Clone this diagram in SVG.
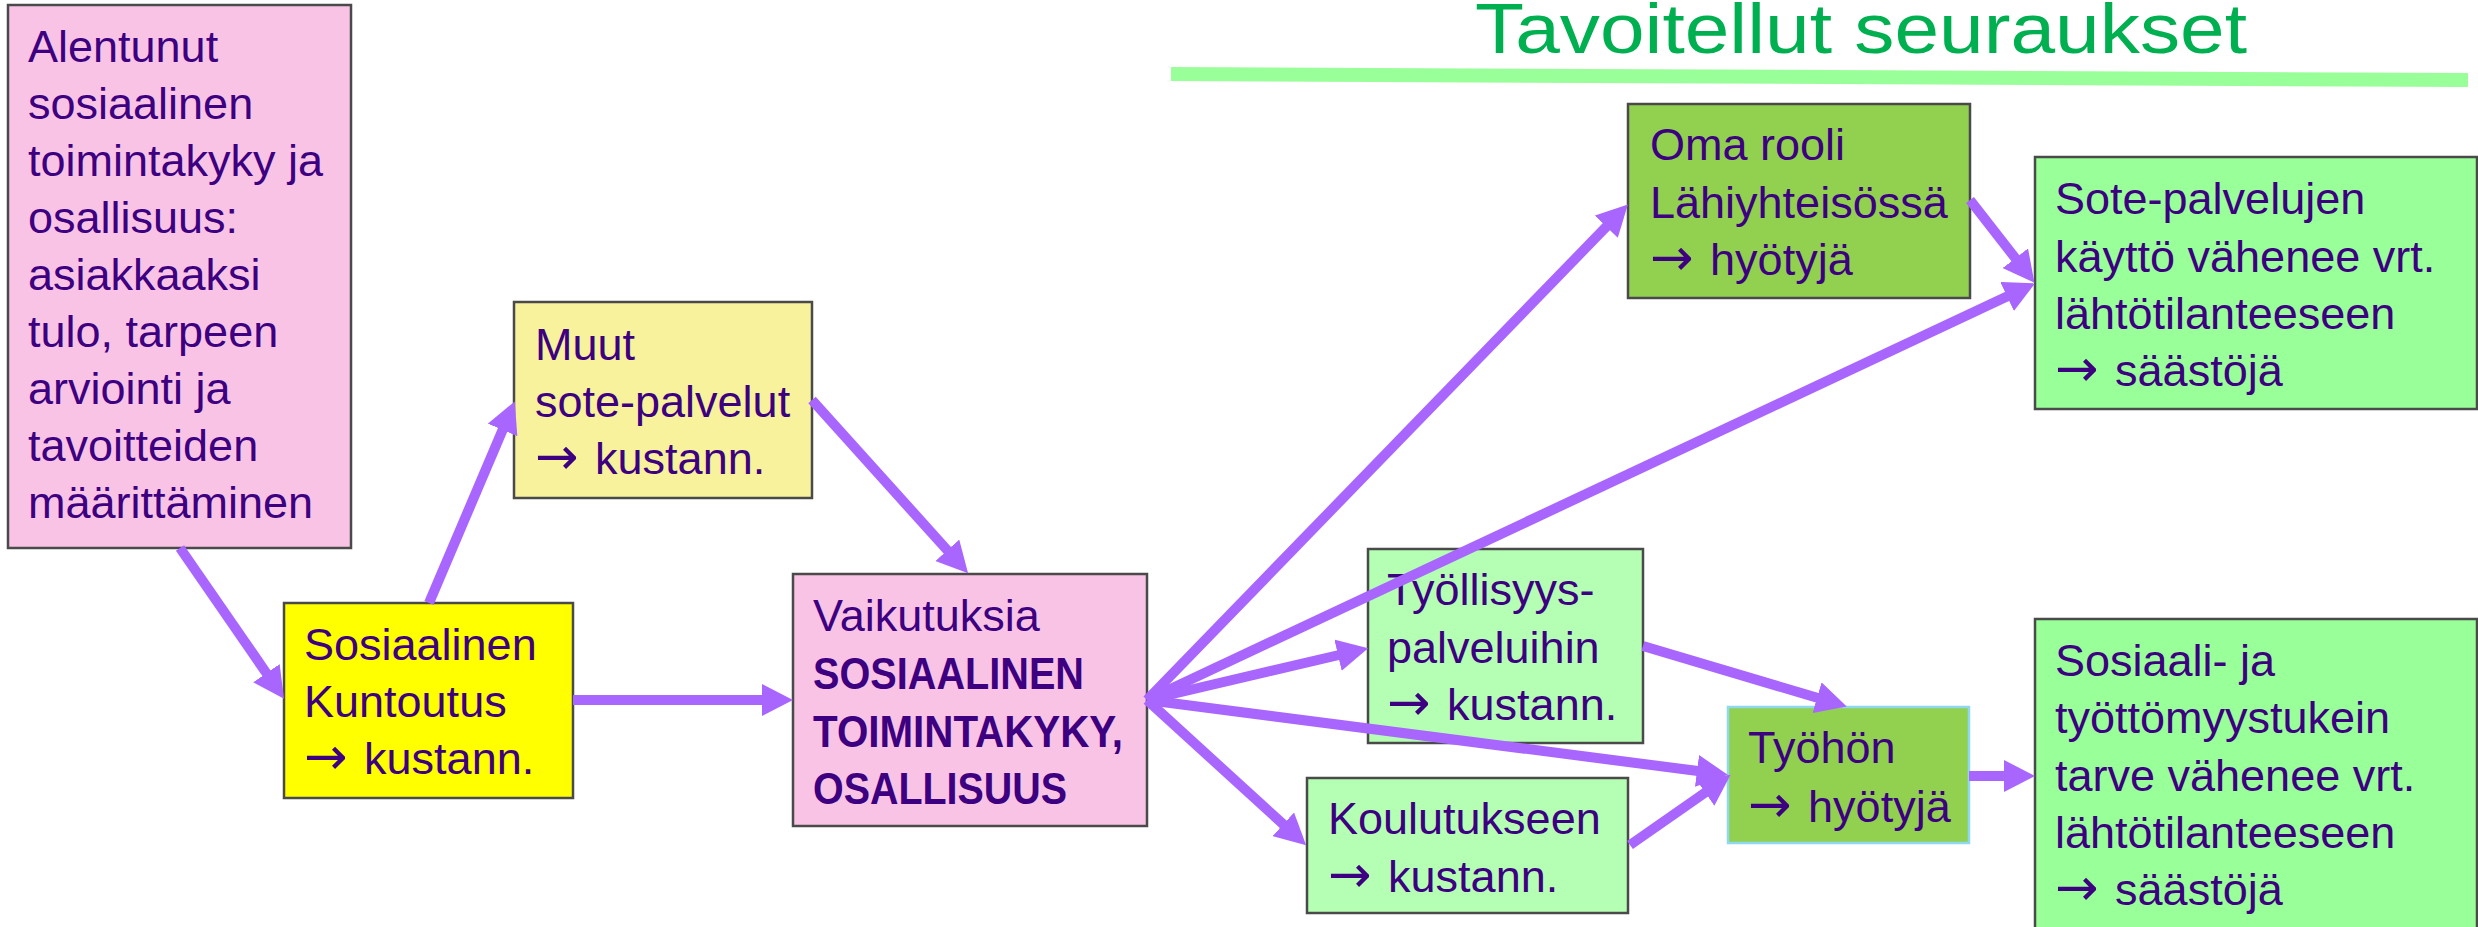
<svg xmlns="http://www.w3.org/2000/svg" width="2478" height="927" viewBox="0 0 2478 927">
<defs>
<style>
.box{stroke:#4a4a4a;stroke-width:2.5}
.t{font-family:"Liberation Sans",Arial,sans-serif;font-size:45px;fill:#3d0080}
.b{font-weight:bold}
.ar{font-family:"DejaVu Sans",sans-serif;font-size:52px}
.conn{stroke:#a866ff;stroke-width:10;fill:none;marker-end:url(#ah)}
</style>
<marker id="ah" markerUnits="userSpaceOnUse" markerWidth="31" markerHeight="32" viewBox="0 0 31 32" refX="1" refY="16" orient="auto">
<path d="M0,0 L31,16 L0,32 Z" fill="#a866ff"/>
</marker>
</defs>
<rect width="2478" height="927" fill="#ffffff"/>

<g id="title">
<text x="1475" y="53" font-family="Liberation Sans,Arial,sans-serif" font-size="71" fill="#00b050" textLength="772" lengthAdjust="spacingAndGlyphs">Tavoitellut seuraukset</text>
<line x1="1171" y1="74" x2="2468" y2="80" stroke="#99ff99" stroke-width="14"/>
</g>

<g id="node-alentunut">
<rect class="box" x="8" y="5" width="343" height="543" fill="#f9c3e6"/>
<text class="t" x="28" y="62">Alentunut</text>
<text class="t" x="28" y="119">sosiaalinen</text>
<text class="t" x="28" y="176">toimintakyky ja</text>
<text class="t" x="28" y="233">osallisuus:</text>
<text class="t" x="28" y="290">asiakkaaksi</text>
<text class="t" x="28" y="347">tulo, tarpeen</text>
<text class="t" x="28" y="404">arviointi ja</text>
<text class="t" x="28" y="461">tavoitteiden</text>
<text class="t" x="28" y="518">määrittäminen</text>
</g>

<g id="node-muut">
<rect class="box" x="514" y="302" width="298" height="196" fill="#f8f29c"/>
<text class="t" x="535" y="360">Muut</text>
<text class="t" x="535" y="417">sote-palvelut</text>
<text class="t" x="535" y="474"><tspan class="ar">→</tspan><tspan dx="4"> kustann.</tspan></text>
</g>

<g id="node-kuntoutus">
<rect class="box" x="284" y="603" width="289" height="195" fill="#ffff00"/>
<text class="t" x="304" y="660">Sosiaalinen</text>
<text class="t" x="304" y="717">Kuntoutus</text>
<text class="t" x="304" y="774"><tspan class="ar">→</tspan><tspan dx="4"> kustann.</tspan></text>
</g>

<g id="node-vaikutuksia">
<rect class="box" x="793" y="574" width="354" height="252" fill="#f9c3e6"/>
<text class="t" x="813" y="631">Vaikutuksia</text>
<text class="t b" x="813" y="689" textLength="271" lengthAdjust="spacingAndGlyphs">SOSIAALINEN</text>
<text class="t b" x="813" y="747" textLength="310" lengthAdjust="spacingAndGlyphs">TOIMINTAKYKY,</text>
<text class="t b" x="813" y="804" textLength="254" lengthAdjust="spacingAndGlyphs">OSALLISUUS</text>
</g>

<g id="node-oma-rooli">
<rect class="box" x="1628" y="104" width="342" height="194" fill="#92d050"/>
<text class="t" x="1650" y="160">Oma rooli</text>
<text class="t" x="1650" y="218">Lähiyhteisössä</text>
<text class="t" x="1650" y="275"><tspan class="ar">→</tspan><tspan dx="4"> hyötyjä</tspan></text>
</g>

<g id="node-sote-palvelujen">
<rect class="box" x="2035" y="157" width="442" height="252" fill="#99ff99"/>
<text class="t" x="2055" y="214">Sote-palvelujen</text>
<text class="t" x="2055" y="272">käyttö vähenee vrt.</text>
<text class="t" x="2055" y="329">lähtötilanteeseen</text>
<text class="t" x="2055" y="386"><tspan class="ar">→</tspan><tspan dx="4"> säästöjä</tspan></text>
</g>

<g id="node-tyollisyys">
<rect class="box" x="1368" y="549" width="275" height="194" fill="#b5ffb5"/>
<text class="t" x="1387" y="605">Työllisyys-</text>
<text class="t" x="1387" y="663">palveluihin</text>
<text class="t" x="1387" y="720"><tspan class="ar">→</tspan><tspan dx="4"> kustann.</tspan></text>
</g>

<g id="node-koulutukseen">
<rect class="box" x="1307" y="778" width="321" height="135" fill="#b5ffb5"/>
<text class="t" x="1328" y="834">Koulutukseen</text>
<text class="t" x="1328" y="892"><tspan class="ar">→</tspan><tspan dx="4"> kustann.</tspan></text>
</g>

<g id="node-tyohon">
<rect x="1728" y="707" width="241" height="136" fill="#92d050" stroke="#8ed8f0" stroke-width="2.5"/>
<text class="t" x="1748" y="763">Työhön</text>
<text class="t" x="1748" y="822"><tspan class="ar">→</tspan><tspan dx="4"> hyötyjä</tspan></text>
</g>

<g id="node-sosiaali-ja">
<rect class="box" x="2035" y="619" width="442" height="320" fill="#99ff99"/>
<text class="t" x="2055" y="676">Sosiaali- ja</text>
<text class="t" x="2055" y="733">työttömyystukein</text>
<text class="t" x="2055" y="791">tarve vähenee vrt.</text>
<text class="t" x="2055" y="848">lähtötilanteeseen</text>
<text class="t" x="2055" y="905"><tspan class="ar">→</tspan><tspan dx="4"> säästöjä</tspan></text>
</g>

<g id="connectors">
<line class="conn" x1="180" y1="548" x2="267" y2="674"/>
<line class="conn" x1="429" y1="603" x2="503" y2="429"/>
<line class="conn" x1="573" y1="700" x2="763" y2="700"/>
<line class="conn" x1="812" y1="400" x2="948" y2="551"/>
<line class="conn" x1="1147" y1="700" x2="1607" y2="226"/>
<line class="conn" x1="1147" y1="700" x2="2008" y2="296"/>
<line class="conn" x1="1970" y1="200" x2="2016" y2="259"/>
<line class="conn" x1="1147" y1="700" x2="1339" y2="655"/>
<line class="conn" x1="1147" y1="700" x2="1698" y2="771"/>
<line class="conn" x1="1147" y1="700" x2="1284" y2="825"/>
<line class="conn" x1="1643" y1="646" x2="1818" y2="698"/>
<line class="conn" x1="1630" y1="845" x2="1706" y2="792"/>
<line class="conn" x1="1969" y1="776" x2="2005" y2="776"/>
</g>
</svg>
